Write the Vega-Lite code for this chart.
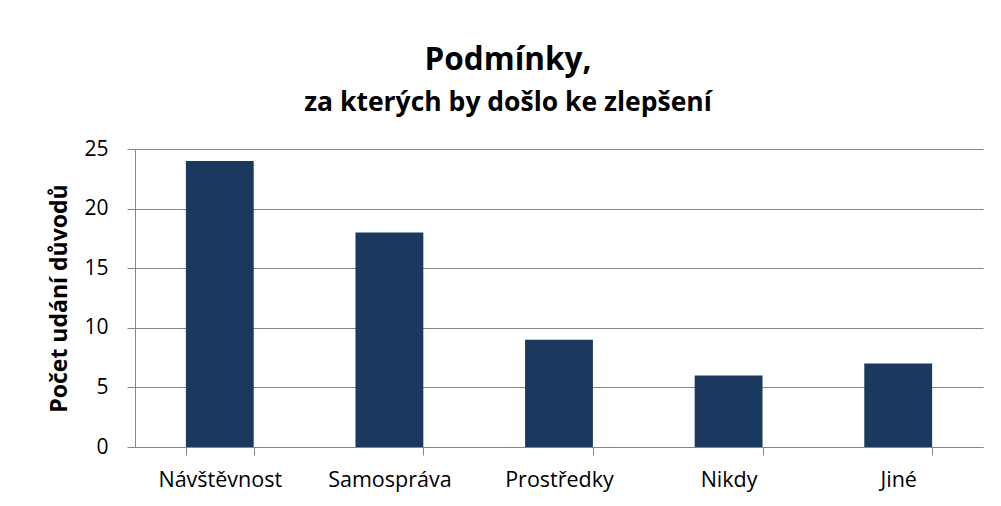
{
  "$schema": "https://vega.github.io/schema/vega-lite/v6.json",
  "width": 848,
  "height": 298,
  "autosize": {"type": "none"},
  "padding": {"left": 135, "top": 149, "right": 18, "bottom": 59},
  "background": "white",
  "title": {
    "text": "Podmínky,",
    "subtitle": "za kterých by došlo ke zlepšení",
    "anchor": "middle",
    "frame": "group",
    "dx": -51,
    "offset": 22,
    "font": "Open Sans",
    "fontSize": 31.5,
    "fontWeight": "bold",
    "color": "#000000",
    "subtitleFont": "Open Sans",
    "subtitleFontSize": 26.5,
    "subtitleFontWeight": "bold",
    "subtitleColor": "#000000",
    "subtitlePadding": 13
  },
  "data": {
    "values": [
      {"kategorie": "Návštěvnost", "pocet": 24},
      {"kategorie": "Samospráva", "pocet": 18},
      {"kategorie": "Prostředky", "pocet": 9},
      {"kategorie": "Nikdy", "pocet": 6},
      {"kategorie": "Jiné", "pocet": 7}
    ]
  },
  "mark": {"type": "bar", "color": "#1B385E"},
  "encoding": {
    "x": {
      "field": "kategorie",
      "type": "nominal",
      "sort": null,
      "scale": {"paddingInner": 0.6, "paddingOuter": 0.3},
      "axis": {
        "title": null,
        "labelAngle": 0,
        "labelFont": "Open Sans",
        "labelFontSize": 21.5,
        "labelColor": "#000000",
        "labelPadding": 14,
        "tickBand": "extent",
        "tickSize": 8,
        "tickColor": "#868686",
        "domainColor": "#868686",
        "grid": false
      }
    },
    "y": {
      "field": "pocet",
      "type": "quantitative",
      "scale": {"domain": [0, 25], "nice": false},
      "axis": {
        "title": "Počet udání důvodů",
        "titleFont": "Open Sans",
        "titleFontSize": 23,
        "titleFontWeight": "bold",
        "titleColor": "#000000",
        "titlePadding": 12,
        "values": [0, 5, 10, 15, 20, 25],
        "labelFont": "Open Sans",
        "labelFontSize": 21,
        "labelColor": "#000000",
        "labelPadding": 19,
        "tickSize": 8,
        "tickColor": "#868686",
        "domainColor": "#868686",
        "gridColor": "#868686",
        "gridWidth": 1
      }
    }
  },
  "config": {
    "view": {"stroke": null}
  }
}
